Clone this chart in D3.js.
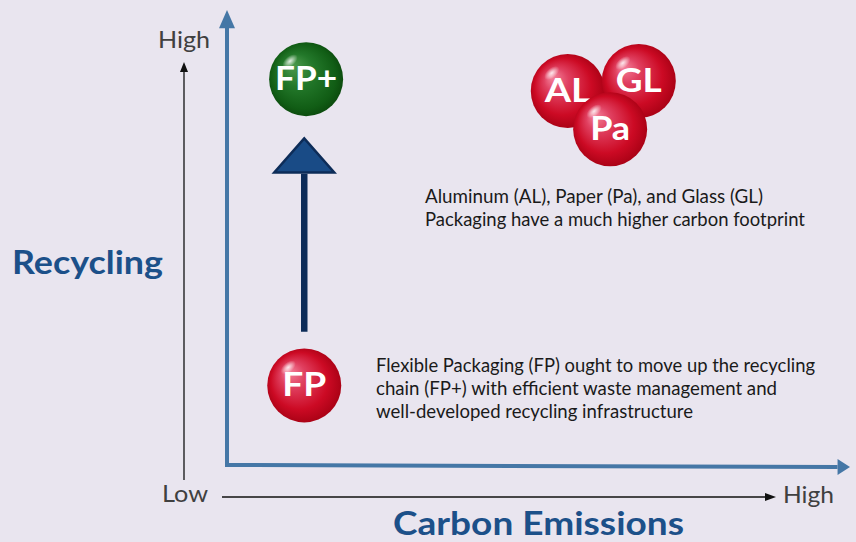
<!DOCTYPE html>
<html><head><meta charset="utf-8">
<script src="https://cdn.jsdelivr.net/npm/d3@7"></script>
<style>html,body{margin:0;padding:0;background:#e9e5ef;}svg{display:block;}</style>
</head><body>
<svg id="c" width="856" height="542"></svg>
<script>
// ---- data ----
const balls = ["FP", "FP+", "AL", "GL", "Pa"];
const carbon = [1.24, 1.27, 5.47, 6.61, 6.15];      // x: Carbon Emissions (0-10)
const recycling = [1.75, 8.48, 8.22, 8.44, 7.38];   // y: Recycling (0-10)
const ballColor = ["red", "green", "red", "red", "red"];
const drawOrder = [0, 1, 2, 3, 4];
const axisLabelsY = ["Low", "High"];
const axisLabelsX = ["Low", "High"];
const axisTitleX = "Carbon Emissions";
const axisTitleY = "Recycling";
const note1 = ["Aluminum (AL), Paper (Pa), and Glass (GL)", "Packaging have a much higher carbon footprint"];
const note2 = ["Flexible Packaging (FP) ought to move up the recycling", "chain (FP+) with efficient waste management and", "well-developed recycling infrastructure"];

// ---- drawing ----
const svg = d3.select("#c");
const W = 856, H = 542;
svg.append("rect").attr("width", W).attr("height", H).attr("fill", "#e9e5ef");

const x = d3.scaleLinear().domain([0, 10]).range([227, 850]);
const y = d3.scaleLinear().domain([0, 10]).range([465, 10]);

const defs = svg.append("defs");
const red = defs.append("radialGradient").attr("id", "gred")
  .attr("cx", "50%").attr("cy", "50%").attr("r", "55%").attr("fx", "28%").attr("fy", "30%");
red.append("stop").attr("offset", "0%").attr("stop-color", "#f5869f");
red.append("stop").attr("offset", "30%").attr("stop-color", "#e04060");
red.append("stop").attr("offset", "70%").attr("stop-color", "#cc0a24");
red.append("stop").attr("offset", "100%").attr("stop-color", "#a20012");
const green = defs.append("radialGradient").attr("id", "ggreen")
  .attr("cx", "50%").attr("cy", "50%").attr("r", "55%").attr("fx", "30%").attr("fy", "30%");
green.append("stop").attr("offset", "0%").attr("stop-color", "#4f9c4f");
green.append("stop").attr("offset", "40%").attr("stop-color", "#23782a");
green.append("stop").attr("offset", "80%").attr("stop-color", "#115d15");
green.append("stop").attr("offset", "100%").attr("stop-color", "#0a440b");
const gloss = defs.append("radialGradient").attr("id", "gloss");
gloss.append("stop").attr("offset", "0%").attr("stop-color", "#fff").attr("stop-opacity", 0.85);
gloss.append("stop").attr("offset", "100%").attr("stop-color", "#fff").attr("stop-opacity", 0);

const FONT = "Lato, 'Open Sans', sans-serif";

function fitText(sel, w) {
  sel.each(function () {
    const len = this.getComputedTextLength();
    if (len > 0) d3.select(this).attr("textLength", w).attr("lengthAdjust", "spacingAndGlyphs");
  });
}

// blue main axes
const axisCol = "#4577a6";
const x0 = x(0), y0 = y(0);
svg.append("path")
  .attr("d", `M${x0},${y(9.85)} L${x0},${y0} L${x(9.8)},${y0 + 2}`)
  .attr("fill", "none").attr("stroke", axisCol).attr("stroke-width", 4).attr("stroke-linejoin", "miter");
svg.append("path")
  .attr("d", `M${x0},${y(10)} L${x0 - 8},${y(9.6)} L${x0 + 8},${y(9.6)} Z`).attr("fill", axisCol);
svg.append("path")
  .attr("d", `M${x(10)},${y0 + 2} L${x(9.8)},${y0 + 2 - 8} L${x(9.8)},${y0 + 2 + 8} Z`).attr("fill", axisCol);

// black reference arrows
const bx = 184, by = 497;
svg.append("line").attr("x1", bx).attr("x2", bx).attr("y1", 480).attr("y2", 70)
  .attr("stroke", "#111").attr("stroke-width", 1.3);
svg.append("path").attr("d", `M${bx},${62} L${bx - 4},${72} L${bx + 4},${72} Z`).attr("fill", "#111");
svg.append("line").attr("x1", 222).attr("x2", 766).attr("y1", by).attr("y2", by)
  .attr("stroke", "#111").attr("stroke-width", 1.3);
svg.append("path").attr("d", `M${776},${by} L${765},${by - 4} L${765},${by + 4} Z`).attr("fill", "#111");

// Low/High labels
const lab = svg.append("g").attr("font-family", FONT).attr("fill", "#404040").attr("font-size", 24);
lab.append("text").attr("x", 158).attr("y", 48).text(axisLabelsY[1]).call(fitText, 52);
lab.append("text").attr("x", 162).attr("y", 502).text(axisLabelsX[0]).call(fitText, 46);
lab.append("text").attr("x", 783).attr("y", 503).text(axisLabelsX[1]).call(fitText, 51);

// axis titles
svg.append("text").attr("x", 12).attr("y", 274).attr("font-family", FONT).attr("font-weight", 700)
  .attr("font-size", 33).attr("fill", "#1c5089").text(axisTitleY).call(fitText, 151);
svg.append("text").attr("x", 393).attr("y", 535).attr("font-family", FONT).attr("font-weight", 700)
  .attr("font-size", 33).attr("fill", "#1c5089").text(axisTitleX).call(fitText, 291);

// big navy arrow from FP to FP+
const ax = x(carbon[0]);
svg.append("line").attr("x1", ax).attr("x2", ax).attr("y1", y(2.93)).attr("y2", y(6.4))
  .attr("stroke", "#0d2c58").attr("stroke-width", 6.5);
svg.append("path")
  .attr("d", `M${ax},${y(7.18)} L${ax - 30},${y(6.43)} L${ax + 30},${y(6.43)} Z`)
  .attr("fill", "#194b86").attr("stroke", "#0d2c58").attr("stroke-width", 2.5).attr("stroke-linejoin", "miter");

// balls
const R = 37;
const labelW = { "FP": 44, "FP+": 62, "AL": 46, "GL": 46, "Pa": 40 };
const g = svg.selectAll("g.ball").data(drawOrder).join("g").attr("class", "ball")
  .attr("transform", i => `translate(${x(carbon[i])},${y(recycling[i])})`);
g.append("circle").attr("r", R).attr("fill", i => ballColor[i] === "red" ? "url(#gred)" : "url(#ggreen)");
g.append("ellipse").attr("cx", -16).attr("cy", -18).attr("rx", 9).attr("ry", 5)
  .attr("transform", "rotate(-40,-16,-18)").attr("fill", "url(#gloss)");
g.append("text").attr("text-anchor", "middle").attr("y", 11).attr("font-family", FONT)
  .attr("font-weight", 700).attr("font-size", 33).attr("fill", "#fff")
  .text(i => balls[i])
  .each(function (i) { d3.select(this).attr("textLength", labelW[balls[i]]).attr("lengthAdjust", "spacingAndGlyphs"); });

// notes
const n1 = svg.append("g").attr("font-family", FONT).attr("font-size", 19.5).attr("fill", "#1a1a1a");
const n1w = [338, 380];
note1.forEach((t, k) => n1.append("text").attr("x", 425).attr("y", 203 + k * 22.5).text(t).call(fitText, n1w[k]));
const n2w = [439, 401, 317];
note2.forEach((t, k) => n1.append("text").attr("x", 376).attr("y", 372 + k * 23).text(t).call(fitText, n2w[k]));
</script>
</body></html>
